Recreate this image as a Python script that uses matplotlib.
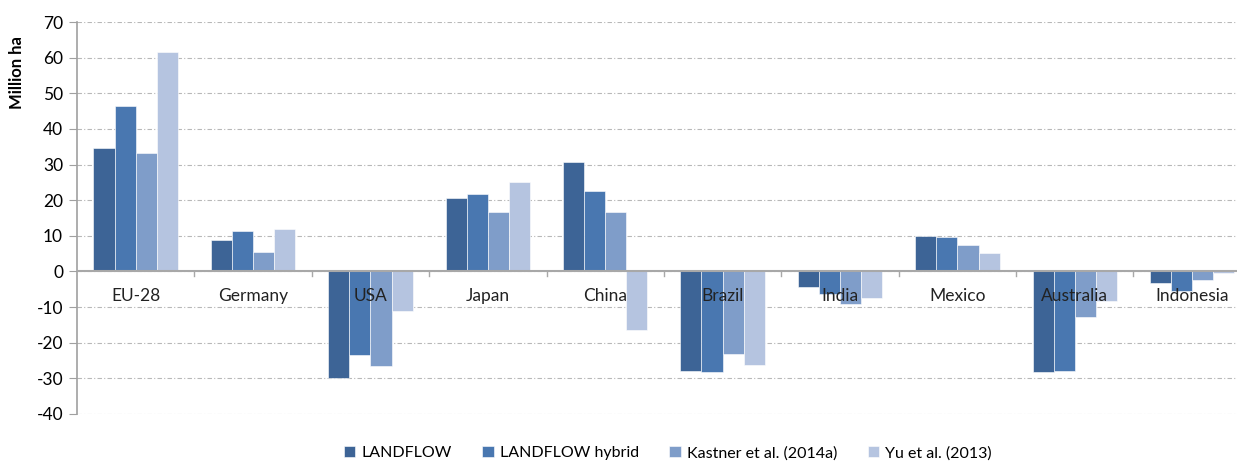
import numpy as np
import matplotlib.pyplot as plt

# Данные (млн га)
regions = ["EU-28", "Germany", "USA", "Japan", "China", "Brazil", "India", "Mexico", "Australia", "Indonesia"]
landflow = [34.6, 8.9, -30.0, 20.7, 30.8, -28.0, -4.3, 9.9, -28.3, -3.2]
landflow_hybrid = [46.4, 11.3, -23.4, 21.8, 22.7, -28.3, -6.4, 9.6, -27.9, -5.5]
kastner = [33.3, 5.4, -26.6, 16.8, 16.6, -23.1, -9.2, 7.5, -12.9, -2.3]
yu = [61.6, 11.8, -11.1, 25.2, -16.4, -26.3, -7.5, 5.1, -8.2, -0.4]

series = [landflow, landflow_hybrid, kastner, yu]
names = ["LANDFLOW", "LANDFLOW hybrid", "Kastner et al. (2014a)", "Yu et al. (2013)"]
colors = ["#3d6496", "#4977b0", "#7f9dc9", "#b5c4e0"]

plt.rcParams["font.family"] = ["Lato", "DejaVu Sans"]
plt.rcParams["axes.unicode_minus"] = False

fig = plt.figure(figsize=(12.37, 4.61), dpi=100)
# ось выходит за правый край, как в оригинале
ax = fig.add_axes([0.0622, 0.102, 0.949, 0.85])

x = np.arange(len(regions))
w = 0.18
for i, (vals, name, c) in enumerate(zip(series, names, colors)):
    ax.bar(x + (i - 1.5) * w, vals, width=w, color=c, label=name,
           edgecolor="white", linewidth=0.4, zorder=3)

ax.set_xlim(-0.5, len(regions) - 0.5)
ax.set_ylim(-40, 70)
ax.set_yticks(range(-40, 71, 10))
ax.tick_params(axis="y", labelsize=12.5, length=6, color="#a0a0a0", pad=4)
ax.grid(axis="y", color="#b8b8b8", linestyle=(0, (4, 2, 1, 2)), linewidth=0.8, zorder=0)

for s in ["top", "right", "bottom"]:
    ax.spines[s].set_visible(False)
ax.spines["left"].set_color("#a0a0a0")
ax.spines["left"].set_linewidth(1.2)

# нулевая линия с делениями между группами
ax.axhline(0, color="#a8a8a8", linewidth=1.5, zorder=4)
for b in np.arange(0.5, len(regions) - 0.5, 1):
    ax.plot([b, b], [0, -1.4], color="#a8a8a8", linewidth=1, zorder=4)

ax.set_xticks([])
for xi, r in zip(x, regions):
    ax.text(xi, -4.6, r, ha="center", va="top", fontsize=12.5, color="#222222", zorder=5)

fig.text(0.014, 0.843, "Million ha", rotation=90, fontsize=12, fontweight="bold", ha="center", va="center")

fig.legend(loc="lower center", bbox_to_anchor=(0.54, -0.03), ncol=4, frameon=False,
           fontsize=11.5, handlelength=0.7, handleheight=0.7, handletextpad=0.4, columnspacing=1.9)

fig.savefig("out.png", dpi=100)
